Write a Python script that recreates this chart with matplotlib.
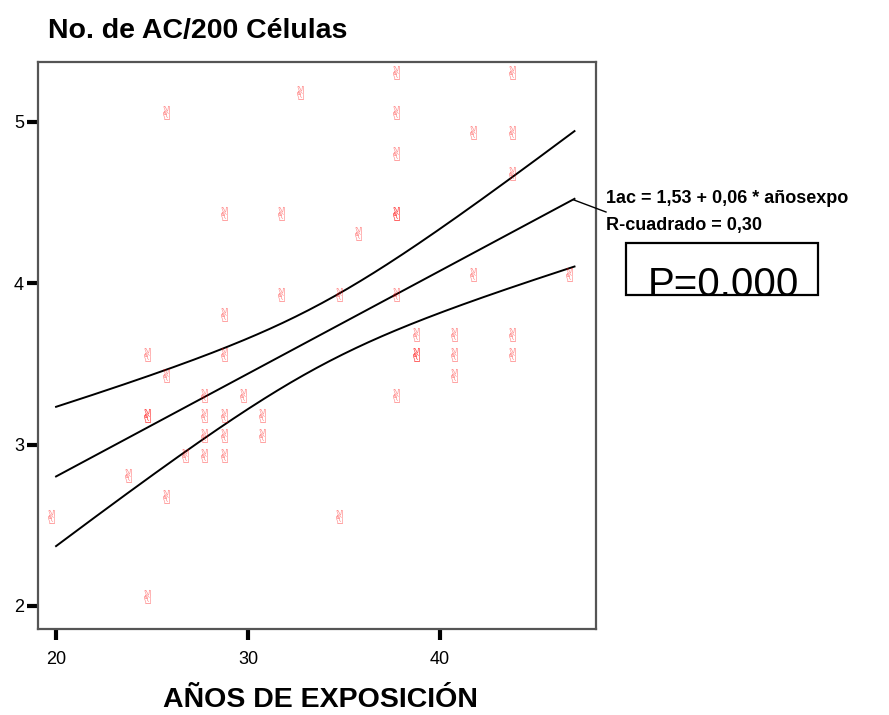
import numpy as np
import matplotlib
matplotlib.use("Agg")
import matplotlib.pyplot as plt
from matplotlib.patches import Rectangle
from matplotlib.lines import Line2D

# Años de exposición y No. de AC/200 células
anos = [20, 25, 25, 25, 25, 26, 26, 26, 24, 27, 28, 28, 28, 28,
        29, 29, 29, 29, 29, 29, 30, 31, 31, 32, 32, 33, 35, 35, 36,
        38, 38, 38, 38, 38, 38, 38, 39, 39, 39, 41, 41, 41, 42, 42,
        44, 44, 44, 44, 44, 47]
ac = [2.5, 3.5, 3.125, 3.125, 2.0, 5.0, 3.375, 2.625, 2.75, 2.875, 3.25, 3.125, 3.0, 2.875,
      4.375, 3.75, 3.5, 3.125, 3.0, 2.875, 3.25, 3.125, 3.0, 4.375, 3.875, 5.125, 3.875, 2.5, 4.25,
      5.25, 5.0, 4.75, 4.375, 4.375, 3.875, 3.25, 3.625, 3.5, 3.5, 3.625, 3.5, 3.375, 4.875, 4.0,
      5.25, 4.875, 4.625, 3.625, 3.5, 4.0]

xticks = [20, 30, 40]
yticks = [2, 3, 4, 5]

plt.rcParams["font.family"] = ["Liberation Sans", "DejaVu Sans"]

fig = plt.figure(figsize=(8.89, 7.15), dpi=100)
ax = fig.add_axes([38 / 889, 1 - 629 / 715, (596 - 38) / 889, (629 - 62) / 715])
ax.set_xlim(19.06, 48.12)
ax.set_ylim(1.857, 5.37)

# puntos (el símbolo queda algo arriba y a la izquierda del punto)
for x, y in zip(anos, ac):
    ax.annotate("\u270c", (x, y), xytext=(-3, 5), textcoords="offset points",
                ha="center", va="center", fontsize=14,
                color="red", alpha=0.5, family="DejaVu Sans")

# recta de regresión e intervalo de confianza de la media
x = np.array(anos, dtype=float)
y = np.array(ac)
b, a = np.polyfit(x, y, 1)
n = len(x)
res = y - (a + b * x)
s = np.sqrt(np.sum(res ** 2) / (n - 2))
xs = np.linspace(20, 47, 200)
se = s * np.sqrt(1 / n + (xs - x.mean()) ** 2 / np.sum((x - x.mean()) ** 2))
t = 2.01
fit = a + b * xs
ax.plot(xs, fit, color="black", lw=1.4)
ax.plot(xs, fit + t * se, color="black", lw=1.4)
ax.plot(xs, fit - t * se, color="black", lw=1.4)

for sp in ax.spines.values():
    sp.set_color("#555555")
    sp.set_linewidth(1.6)

ax.set_xticks(xticks)
ax.set_yticks(yticks)
ax.tick_params(axis="both", length=8, width=3, color="black", labelsize=13)
ax.tick_params(axis="x", pad=8)
ax.tick_params(axis="y", pad=2)

fig.text(48 / 889, 1 - 38 / 715, "No. de AC/200 Células", fontsize=20.5,
         fontweight="bold", ha="left", va="baseline")
fig.text(320 / 889, 1 - 707 / 715, "AÑOS DE EXPOSICIÓN", fontsize=20.5,
         fontweight="bold", ha="center", va="baseline")

# leyenda de la ecuación
fig.text(606 / 889, 1 - 203 / 715, "1ac = 1,53 + 0,06 * añosexpo", fontsize=13,
         fontweight="bold", ha="left", va="baseline")
fig.text(606 / 889, 1 - 230 / 715, "R-cuadrado = 0,30", fontsize=13,
         fontweight="bold", ha="left", va="baseline")
fig.add_artist(Line2D([574 / 889, 606 / 889], [1 - 200 / 715, 1 - 212 / 715],
                      transform=fig.transFigure, color="black", lw=1))

# recuadro P
box = Rectangle((626 / 889, 1 - 295 / 715), (818 - 626) / 889, (295 - 243) / 715,
                transform=fig.transFigure, facecolor="none", edgecolor="black", lw=1.6)
fig.add_artist(box)
clip = Rectangle((626 / 889, 1 - 294 / 715), (818 - 626) / 889, (294 - 243) / 715,
                 transform=fig.transFigure, facecolor="none", edgecolor="none")
fig.add_artist(clip)
ptxt = fig.text(648 / 889, 1 - 296 / 715, "P=0.000", fontsize=29,
                ha="left", va="baseline")
ptxt.set_clip_path(clip)

fig.savefig("out.png", dpi=100)
